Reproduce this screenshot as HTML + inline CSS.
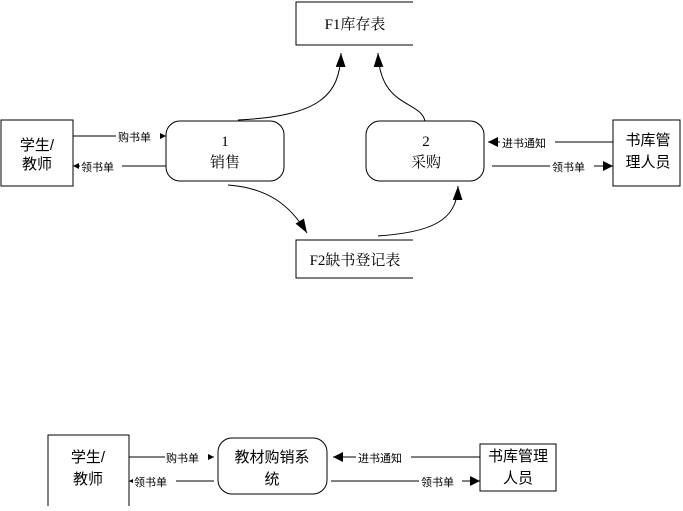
<!DOCTYPE html>
<html><head><meta charset="utf-8"><style>
body{margin:0;background:#fff}
svg text{font-family:"Liberation Serif","Noto Serif CJK SC","Noto Sans CJK SC",serif;fill:#000}
.s{font-family:"Liberation Sans","Noto Sans CJK SC",sans-serif}
</style></head><body>
<svg width="683" height="506" viewBox="0 0 683 506" xmlns="http://www.w3.org/2000/svg">
<defs>
<marker id="a" viewBox="0 0 10 10" refX="10" refY="5" markerWidth="10" markerHeight="10" markerUnits="userSpaceOnUse" orient="auto"><path d="M0,0L10,5L0,10z"/></marker>
<marker id="b" viewBox="0 0 10 10" refX="10" refY="5" markerWidth="14" markerHeight="14" markerUnits="userSpaceOnUse" orient="auto"><path d="M0,1.5L10,5L0,8.5z"/></marker>
<marker id="c" viewBox="0 0 10 10" refX="10" refY="5" markerWidth="6" markerHeight="6" markerUnits="userSpaceOnUse" orient="auto"><path d="M0,0L10,5L0,10z"/></marker>
</defs>
<g fill="none" stroke="#000" stroke-width="1">
<path d="M413,2H296V45H413"/>
<path d="M413,240H296V278H413"/>
<rect x="1" y="120" width="72" height="66"/>
<rect x="613" y="120" width="67" height="66"/>
<rect x="166" y="121" width="118" height="60" rx="14"/>
<rect x="366" y="121" width="118" height="60" rx="14"/>
<path d="M238,120C320,116 340,95 341,53" marker-end="url(#b)"/>
<path d="M425,121C420,100 380,108 378,53" marker-end="url(#b)"/>
<path d="M228,185C268,188 290,205 307,233" marker-end="url(#b)"/>
<path d="M378,236C430,232 457,222 458,186" marker-end="url(#b)"/>
<path d="M73,136H166" marker-end="url(#c)"/>
<path d="M166,166H73" marker-end="url(#c)"/>
<path d="M613,142H488" marker-end="url(#a)"/>
<path d="M492,166H613" marker-end="url(#a)"/>
<path d="M48,506V435H129V506"/>
<rect x="218" y="438" width="109" height="56" rx="14"/>
<rect x="480" y="444" width="76" height="47"/>
<path d="M129,457H214" marker-end="url(#c)"/>
<path d="M214,481H129" marker-end="url(#c)"/>
<path d="M480,457H333" marker-end="url(#a)"/>
<path d="M331,481H480" marker-end="url(#a)"/>
</g>
<g font-size="15" text-anchor="middle">
<text x="355" y="29">F1库存表</text>
<text x="355" y="265">F2缺书登记表</text>
<text x="225" y="146">1</text><text x="225" y="167">销售</text>
<text x="426" y="146">2</text><text x="426" y="167">采购</text>
</g>
<g class="s" font-size="15" text-anchor="middle">
<text x="37" y="150" class="s">学生/</text><text x="37" y="169" class="s">教师</text>
<text x="648" y="145" class="s">书库管</text><text x="648" y="167" class="s">理人员</text>
<text x="88" y="462" class="s">学生/</text><text x="88" y="484" class="s">教师</text>
<text x="272" y="462" class="s">教材购销系</text><text x="272" y="484" class="s">统</text>
<text x="518" y="461" class="s">书库管理</text><text x="518" y="483" class="s">人员</text>
</g>
<g font-size="11" class="s">
<rect x="116" y="130" width="44" height="13" fill="#fff"/><text x="118" y="141" class="s">购书单</text>
<rect x="80" y="160" width="42" height="13" fill="#fff"/><text x="81" y="171" class="s">领书单</text>
<rect x="500" y="136" width="55" height="13" fill="#fff"/><text x="502" y="147" class="s">进书通知</text>
<rect x="550" y="160" width="44" height="13" fill="#fff"/><text x="552" y="171" class="s">领书单</text>
<rect x="165" y="451" width="43" height="13" fill="#fff"/><text x="166" y="462" class="s">购书单</text>
<rect x="133" y="475" width="43" height="13" fill="#fff"/><text x="134" y="486" class="s">领书单</text>
<rect x="356" y="451" width="55" height="13" fill="#fff"/><text x="358" y="462" class="s">进书通知</text>
<rect x="419" y="475" width="43" height="13" fill="#fff"/><text x="421" y="486" class="s">领书单</text>
</g>
</svg>
</body></html>
